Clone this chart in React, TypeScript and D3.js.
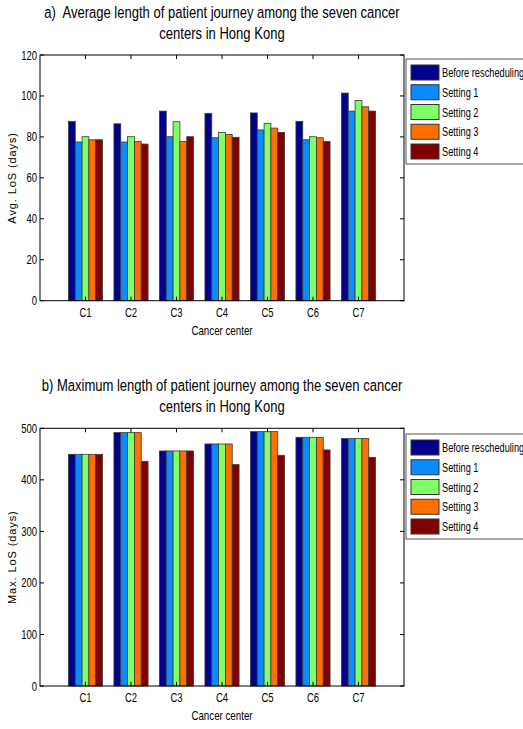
import React, { useEffect, useRef } from "react";
import * as d3 from "d3";

// categories and series
const centers = ["C1", "C2", "C3", "C4", "C5", "C6", "C7"];
const seriesNames = ["Before rescheduling", "Setting 1", "Setting 2", "Setting 3", "Setting 4"];
const seriesColors = ["#00008b", "#0a8cff", "#80ff66", "#ff7000", "#800000"];

// a) average LoS, one array per series (C1..C7)
const avgBefore = [87.6, 86.4, 92.6, 91.5, 91.7, 87.6, 101.4];
const avgS1 = [77.5, 77.5, 80.1, 79.6, 83.4, 78.6, 92.6];
const avgS2 = [80.1, 80.1, 87.4, 82.2, 86.6, 80.1, 97.8];
const avgS3 = [78.6, 77.7, 77.7, 81.2, 84.3, 79.6, 94.7];
const avgS4 = [78.6, 76.5, 80.1, 79.8, 82.2, 77.7, 92.6];

// b) maximum LoS
const maxBefore = [449.5, 491.6, 456, 469.6, 493.5, 482.5, 480];
const maxS1 = [449.5, 491.6, 456, 469.6, 493.5, 482.5, 480];
const maxS2 = [449.5, 491.6, 456, 469.6, 493.5, 482.5, 480];
const maxS3 = [449.5, 491.6, 456, 469.6, 493.5, 482.5, 480];
const maxS4 = [449.5, 436, 456, 429.5, 447.6, 458, 443.7];

const avgTicks = [0, 20, 40, 60, 80, 100, 120];
const maxTicks = [0, 100, 200, 300, 400, 500];

const sans = "'Liberation Sans', Arial, sans-serif";

// condensed text: Liberation Sans squeezed horizontally (no narrow font installed)
function narrowText(parent, x, y, txt, size, anchor = "start", squeeze = 0.82) {
  return parent
    .append("g")
    .attr("transform", `translate(${x},${y}) scale(${squeeze},1)`)
    .append("text")
    .attr("text-anchor", anchor)
    .style("font-family", sans)
    .style("font-size", size + "px")
    .style("white-space", "pre")
    .text(txt);
}

function drawPanel(svg, opts) {
  const { top, bottom, left, right, yMax, ticks, series, title, yLabel, legendTop } = opts;
  const g = svg.append("g");

  const x = d3.scaleLinear().domain([0, centers.length + 1]).range([left, right]);
  const y = d3.scaleLinear().domain([0, yMax]).range([bottom, top]);
  const inner = d3.scaleBand().domain(seriesNames).range([-0.375, 0.375]);

  // title
  narrowText(g, (left + right) / 2, top - 37, title[0], 16.5, "middle", 0.79);
  narrowText(g, (left + right) / 2, top - 16, title[1], 16.5, "middle", 0.79);

  // bars
  series.forEach((vals, si) => {
    g.selectAll(".bar" + si)
      .data(vals)
      .join("rect")
      .attr("x", (d, i) => x(i + 1 + inner(seriesNames[si])))
      .attr("width", x(inner.bandwidth()) - x(0))
      .attr("y", (d) => y(d))
      .attr("height", (d) => y(0) - y(d))
      .attr("fill", seriesColors[si])
      .attr("stroke", "#3a3a3a")
      .attr("stroke-width", 0.8);
  });

  // axes box with inward ticks
  const axisG = g.append("g");
  axisG.append("rect")
    .attr("x", left).attr("y", top)
    .attr("width", right - left).attr("height", bottom - top)
    .attr("fill", "none").attr("stroke", "#000").attr("stroke-width", 1);

  const tl = 4;
  ticks.forEach((t) => {
    axisG.append("line").attr("x1", left).attr("x2", left + tl).attr("y1", y(t)).attr("y2", y(t)).attr("stroke", "#000");
    axisG.append("line").attr("x1", right).attr("x2", right - tl).attr("y1", y(t)).attr("y2", y(t)).attr("stroke", "#000");
    narrowText(axisG, left - 3, y(t) + 4.5, t, 12.5, "end", 0.76);
  });
  centers.forEach((c, i) => {
    axisG.append("line").attr("x1", x(i + 1)).attr("x2", x(i + 1)).attr("y1", top).attr("y2", top + tl).attr("stroke", "#000");
    axisG.append("line").attr("x1", x(i + 1)).attr("x2", x(i + 1)).attr("y1", bottom).attr("y2", bottom - tl).attr("stroke", "#000");
    narrowText(axisG, x(i + 1), bottom + 16, c, 12.5, "middle", 0.76);
  });

  // axis labels
  narrowText(g, (left + right) / 2, bottom + 34, "Cancer center", 12.5, "middle", 0.78);
  g.append("text")
    .attr("transform", `translate(16,${(top + bottom) / 2}) rotate(-90)`)
    .attr("text-anchor", "middle")
    .style("font-family", sans)
    .style("font-size", "11px")
    .style("letter-spacing", "0.9px")
    .text(yLabel);

  // legend
  const lg = g.append("g").attr("transform", `translate(406,${legendTop})`);
  lg.append("rect")
    .attr("width", 130).attr("height", 105)
    .attr("fill", "#fff").attr("stroke", "#555").attr("stroke-width", 1);
  seriesNames.forEach((name, i) => {
    lg.append("rect")
      .attr("x", 5).attr("y", 6 + i * 19.75)
      .attr("width", 28).attr("height", 15)
      .attr("fill", seriesColors[i]).attr("stroke", "#333");
    narrowText(lg, 36, 18 + i * 19.75, name, 12.5, "start", 0.74);
  });
}

export default function App() {
  const ref = useRef(null);

  useEffect(() => {
    const svg = d3.select(ref.current);
    svg.selectAll("*").remove();
    drawPanel(svg, {
      top: 55, bottom: 300.7, left: 40, right: 404,
      yMax: 120, ticks: avgTicks,
      series: [avgBefore, avgS1, avgS2, avgS3, avgS4],
      title: ["a)  Average length of patient journey among the seven cancer", "centers in Hong Kong"],
      yLabel: "Avg. LoS (days)",
      legendTop: 59,
    });
    drawPanel(svg, {
      top: 428.3, bottom: 686, left: 40, right: 404,
      yMax: 500, ticks: maxTicks,
      series: [maxBefore, maxS1, maxS2, maxS3, maxS4],
      title: ["b) Maximum length of patient journey among the seven cancer", "centers in Hong Kong"],
      yLabel: "Max. LoS (days)",
      legendTop: 434,
    });
  }, []);

  return (
    <svg
      ref={ref}
      width={523}
      height={729}
      style={{ position: "absolute", left: 0, top: 0, background: "#fff" }}
    />
  );
}
